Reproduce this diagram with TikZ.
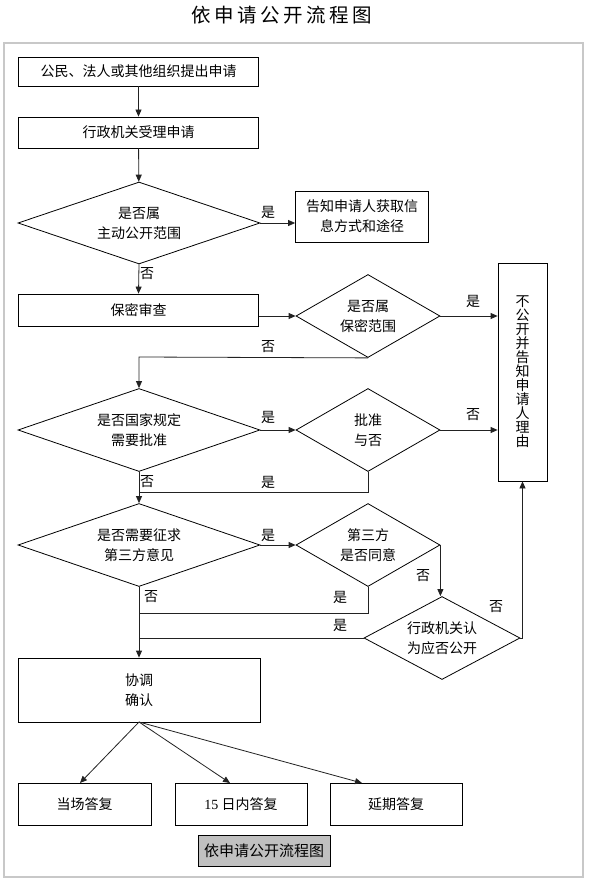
\documentclass[tikz,border=0pt]{standalone}
\usepackage{fontspec}
\setmainfont{Noto Sans CJK SC}
\newfontfamily\numfont{Liberation Serif}
\newfontfamily\titlefont[LetterSpace=18]{Noto Sans CJK SC}
\usetikzlibrary{shapes.geometric,arrows.meta}
\definecolor{framegray}{HTML}{C8C8C8}
\definecolor{capgray}{HTML}{C0C0C0}
\definecolor{linec}{HTML}{222222}
\begin{document}
\begin{tikzpicture}[x=1pt,y=-1pt,
  every node/.style={font=\fontsize{14}{20}\selectfont, inner sep=0pt},
  box/.style={draw=black, line width=0.8pt, align=center},
  dia/.style={draw=black, diamond, line width=0.8pt, align=center},
  conn/.style={draw=linec, line width=0.8pt},
  arr/.style={conn, -{Triangle[length=7pt,width=6pt]}}
]
\useasboundingbox (0,0) rectangle (590,890);
\fill[white] (0,0) rectangle (590,890);

\node[font=\titlefont\fontsize{19.5}{19.5}\selectfont] (title) at (282,15) {依申请公开流程图};
\draw[framegray, line width=2pt] (4,43) rectangle (583,877);

% boxes
\node[box, minimum width=240pt, minimum height=29pt] (b1) at (138.5,71.5) {公民、法人或其他组织提出申请};
\node[box, minimum width=240pt, minimum height=31pt] (b2) at (138.5,132.5) {行政机关受理申请};
\node[dia, minimum width=242pt, minimum height=82pt, aspect=2.95] (d1) at (139,223) {是否属\\主动公开范围};
\node[box, minimum width=133pt, minimum height=51pt] (info) at (362,216.5) {告知申请人获取信\\息方式和途径};
\node[box, minimum width=240pt, minimum height=32pt] (b3) at (138.5,310) {保密审查};
\node[dia, minimum width=144pt, minimum height=83pt, aspect=1.75] (d2) at (368,316) {是否属\\保密范围};
\node[box, minimum width=49pt, minimum height=218pt, font=\fontsize{14}{14}\selectfont] (nb) at (522.5,372) {不\\公\\开\\并\\告\\知\\申\\请\\人\\理\\由};
\node[dia, minimum width=242pt, minimum height=83pt, aspect=2.95] (d3) at (139,430) {是否国家规定\\需要批准};
\node[dia, minimum width=144pt, minimum height=83pt, aspect=1.75] (d4) at (368,430) {批准\\与否};
\node[dia, minimum width=242pt, minimum height=83pt, aspect=2.95] (d5) at (139,545) {是否需要征求\\第三方意见};
\node[dia, minimum width=144pt, minimum height=83pt, aspect=1.75] (d6) at (368,545) {第三方\\是否同意};
\node[dia, minimum width=156pt, minimum height=83pt, aspect=1.88] (d7) at (442,638) {行政机关认\\为应否公开};
\node[box, minimum width=242pt, minimum height=64pt] (b4) at (139,690) {协调\\确认};
\node[box, minimum width=133pt, minimum height=42pt] (r1) at (84.5,804) {当场答复};
\node[box, minimum width=132pt, minimum height=42pt] (r2) at (241,804) {{\numfont 15} 日内答复};
\node[box, minimum width=132pt, minimum height=42pt] (r3) at (396,804) {延期答复};
\node[box, fill=capgray, minimum width=132pt, minimum height=31pt, font=\fontsize{15}{15}\selectfont] (cap) at (264,850.5) {依申请公开流程图};

% helper coordinates
\coordinate (j1) at (139,357);
\coordinate (j2) at (368,492);
\coordinate (j3) at (139,492);
\coordinate (j4) at (368,613);
\coordinate (j5) at (139,613);
\coordinate (j6) at (139,638);
\coordinate (t1) at (80,783);
\coordinate (t2) at (230,783);
\coordinate (t3) at (362,783);
\coordinate (o) at (139,722);

% connectors
\draw[arr] (b1) -- (b2);
\draw[arr] (b2) -- (d1);
\draw[arr] (d1.east) -- (d1.east -| info.west);
\draw[arr] (d1.south) -- (b3.north);
\draw[arr] (d2.west -| b3.east) -- (d2.west);
\draw[arr] (d2.east) -- (d2.east -| nb.west);
\draw[arr] (d2.south) -- (j1) -- (d3.north);
\draw[arr] (d3.east) -- (d4.west);
\draw[arr] (d4.east) -- (d4.east -| nb.west);
\draw[conn] (d4.south) -- (j2) -- (j3);
\draw[arr] (d3.south) -- (d5.north);
\draw[arr] (d5.east) -- (d6.west);
\draw[arr] (d6.east) -- (d6.east |- d7.north);
\draw[arr] (d7.east) -| (nb.south);
\draw[conn] (d6.south) -- (j4) -- (j5);
\draw[conn] (d7.west) -- (j6);
\draw[arr] (d5.south) -- (b4.north);
\draw[arr] (o) -- (t1);
\draw[arr] (o) -- (t2);
\draw[arr] (o) -- (t3);

% labels
\node (l1) at (268,212) {是};
\node (l2) at (147,274) {否};
\node (l3) at (473,301) {是};
\node (l4) at (268,347) {否};
\node (l5) at (268,417) {是};
\node (l6) at (473,415) {否};
\node (l7) at (147,482) {否};
\node (l8) at (268,482) {是};
\node (l9) at (268,535) {是};
\node (l10) at (423,576) {否};
\node (l11) at (496,607) {否};
\node (l12) at (151,597) {否};
\node (l13) at (340,597) {是};
\node (l14) at (340,625) {是};
\end{tikzpicture}
\end{document}
